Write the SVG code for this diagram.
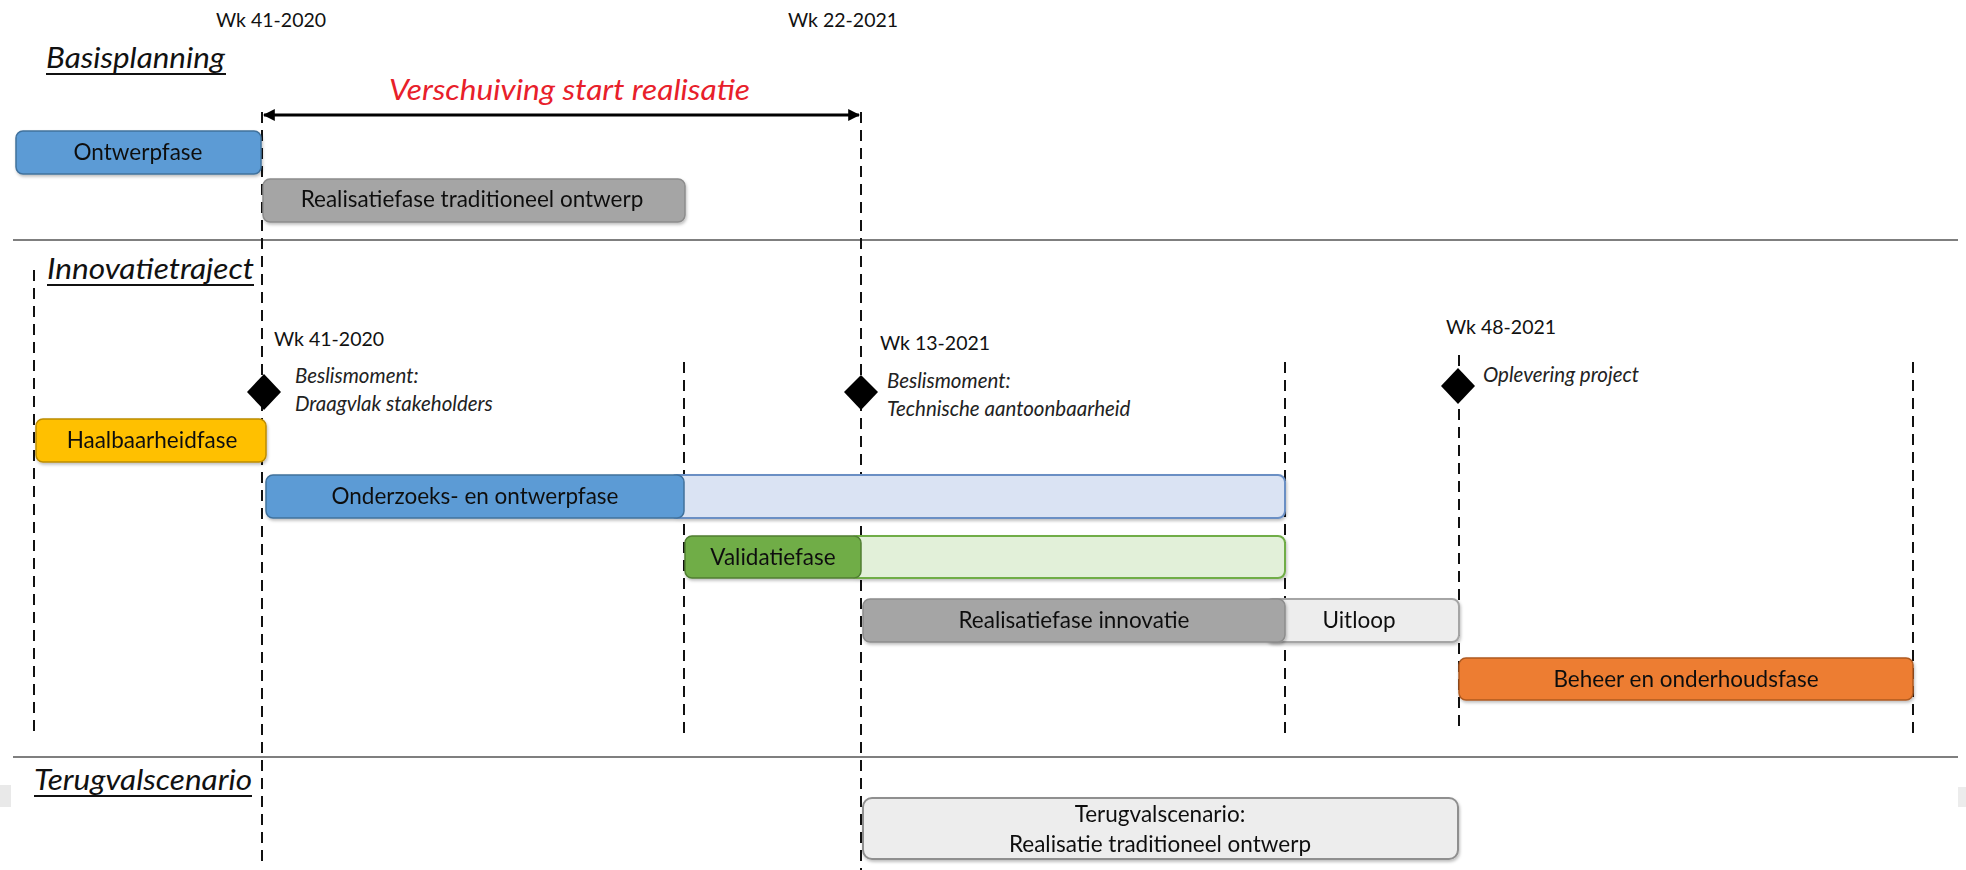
<svg xmlns="http://www.w3.org/2000/svg" width="1966" height="870" viewBox="0 0 1966 870">
<style>
  .t { font-family: Lato, "Liberation Sans", sans-serif; fill: #111; }
  .box { font-size: 22.5px; text-anchor: middle; }
  .wk { font-size: 19.5px; }
  .lbl { font-size: 20.5px; font-style: italic; fill: #222; }
  .hd { font-size: 29px; font-style: italic; }
  .dash { stroke: #111; stroke-width: 2; stroke-dasharray: 11 7; fill: none; }
  .sep { stroke: #7f7f7f; stroke-width: 2.2; }
  .ul { stroke: #111; stroke-width: 2; }
  .dia { fill: #000; }
</style>
<defs>
  <marker id="ah" viewBox="0 0 10 10" refX="9" refY="5" markerWidth="4" markerHeight="4" orient="auto-start-reverse">
    <path d="M0,0 L10,5 L0,10 z" fill="#000"/>
  </marker>
  <filter id="sh" x="-5%" y="-20%" width="110%" height="150%">
    <feDropShadow dx="1" dy="2" stdDeviation="1.5" flood-color="#000" flood-opacity="0.25"/>
  </filter>
</defs>

<rect width="1966" height="870" fill="#fff"/>

<!-- artifacts -->
<rect x="0" y="785" width="11" height="22" fill="#e9e9e9"/>
<rect x="1958" y="787" width="8" height="20" fill="#ececec"/>

<!-- separators -->
<line class="sep" x1="13" y1="240" x2="1958" y2="240"/>
<line class="sep" x1="13" y1="757" x2="1958" y2="757"/>

<!-- headings -->
<g id="basisplanning">
  <text class="t hd" x="46" y="68" textLength="179" lengthAdjust="spacingAndGlyphs">Basisplanning</text>
  <line class="ul" x1="46" y1="74" x2="226" y2="74"/>
</g>
<g id="innovatietraject">
  <text class="t hd" x="47" y="279" textLength="207" lengthAdjust="spacingAndGlyphs">Innovatietraject</text>
  <line class="ul" x1="47" y1="285" x2="254" y2="285"/>
</g>
<g id="terugvalscenario-kop">
  <text class="t hd" x="34" y="790" textLength="218" lengthAdjust="spacingAndGlyphs">Terugvalscenario</text>
  <line class="ul" x1="34" y1="796" x2="252" y2="796"/>
</g>

<!-- week labels -->
<g id="wk-top">
  <text class="t wk" x="216" y="27">Wk 41-2020</text>
  <text class="t wk" x="788" y="27">Wk 22-2021</text>
</g>

<!-- connectors: dashed lines and arrow -->
<g id="connectors">
  <line class="dash" x1="34" y1="270" x2="34" y2="733"/>
  <line class="dash" x1="262" y1="112" x2="262" y2="862"/>
  <line class="dash" x1="684" y1="362" x2="684" y2="735"/>
  <line class="dash" x1="861" y1="112" x2="861" y2="870"/>
  <line class="dash" x1="1285" y1="362" x2="1285" y2="735"/>
  <line class="dash" x1="1459" y1="355" x2="1459" y2="728"/>
  <line class="dash" x1="1913" y1="362" x2="1913" y2="735"/>
  <line x1="264" y1="115" x2="859" y2="115" stroke="#000" stroke-width="3" marker-start="url(#ah)" marker-end="url(#ah)"/>
</g>

<g id="verschuiving">
  <text class="t" x="389" y="100" font-size="28" font-style="italic" textLength="361" lengthAdjust="spacingAndGlyphs" style="fill:#e8202a">Verschuiving start realisatie</text>
</g>

<!-- Basisplanning bars -->
<g id="ontwerpfase" filter="url(#sh)">
  <rect x="16" y="131" width="245" height="43" rx="7" fill="#5b9bd5" stroke="#41719c" stroke-width="1.5"/>
  <text class="t box" x="138" y="160">Ontwerpfase</text>
</g>
<g id="realisatie-traditioneel" filter="url(#sh)">
  <rect x="263" y="179" width="422" height="43" rx="7" fill="#a5a5a5" stroke="#8c8c8c" stroke-width="1.5"/>
  <text class="t box" x="472" y="207">Realisatiefase traditioneel ontwerp</text>
</g>

<!-- milestones -->
<g id="mijlpaal-1">
  <text class="t wk" x="274" y="346">Wk 41-2020</text>
  <path class="dia" d="M264,374 L281,392 L264,410 L247,392 z"/>
  <text class="t lbl" x="295" y="383">Beslismoment:</text>
  <text class="t lbl" x="295" y="411">Draagvlak stakeholders</text>
</g>
<g id="mijlpaal-2">
  <text class="t wk" x="880" y="350">Wk 13-2021</text>
  <path class="dia" d="M861,375 L878,392 L861,410 L844,392 z"/>
  <text class="t lbl" x="887" y="388">Beslismoment:</text>
  <text class="t lbl" x="887" y="416">Technische aantoonbaarheid</text>
</g>
<g id="mijlpaal-3">
  <text class="t wk" x="1446" y="334">Wk 48-2021</text>
  <path class="dia" d="M1458,368 L1475,386 L1458,404 L1441,386 z"/>
  <text class="t lbl" x="1483" y="382">Oplevering project</text>
</g>

<!-- Innovatietraject bars -->
<g id="haalbaarheidfase" filter="url(#sh)">
  <rect x="36" y="419" width="230" height="43" rx="7" fill="#ffc000" stroke="#bc8c00" stroke-width="1.5"/>
  <text class="t box" x="152" y="448">Haalbaarheidfase</text>
</g>
<g id="onderzoeks-ontwerpfase" filter="url(#sh)">
  <rect x="670" y="475" width="615" height="43" rx="7" fill="#dae3f3" stroke="#6a8fc4" stroke-width="2"/>
  <rect x="266" y="475" width="418" height="43" rx="7" fill="#5b9bd5" stroke="#41719c" stroke-width="1.5"/>
  <text class="t box" x="475" y="504">Onderzoeks- en ontwerpfase</text>
</g>
<g id="validatiefase" filter="url(#sh)">
  <rect x="850" y="536" width="435" height="42" rx="7" fill="#e2f0d9" stroke="#70ad47" stroke-width="2"/>
  <rect x="685" y="536" width="176" height="42" rx="7" fill="#70ad47" stroke="#507e32" stroke-width="1.5"/>
  <text class="t box" x="773" y="565">Validatiefase</text>
</g>
<g id="uitloop" filter="url(#sh)">
  <rect x="1266" y="599" width="193" height="43" rx="7" fill="#ededed" stroke="#a5a5a5" stroke-width="2"/>
  <text class="t box" x="1359" y="628">Uitloop</text>
</g>
<g id="realisatie-innovatie" filter="url(#sh)">
  <rect x="863" y="599" width="422" height="43" rx="7" fill="#a5a5a5" stroke="#8c8c8c" stroke-width="1.5"/>
  <text class="t box" x="1074" y="628">Realisatiefase innovatie</text>
</g>
<g id="beheer-onderhoud" filter="url(#sh)">
  <rect x="1459" y="658" width="454" height="42" rx="7" fill="#ed7d31" stroke="#ae5a21" stroke-width="1.5"/>
  <text class="t box" x="1686" y="687">Beheer en onderhoudsfase</text>
</g>

<!-- Terugvalscenario -->
<g id="terugval-box" filter="url(#sh)">
  <rect x="863" y="798" width="595" height="61" rx="9" fill="#ededed" stroke="#8f8f8f" stroke-width="2"/>
  <text class="t box" x="1160" y="822">Terugvalscenario:</text>
  <text class="t box" x="1160" y="852">Realisatie traditioneel ontwerp</text>
</g>
</svg>
